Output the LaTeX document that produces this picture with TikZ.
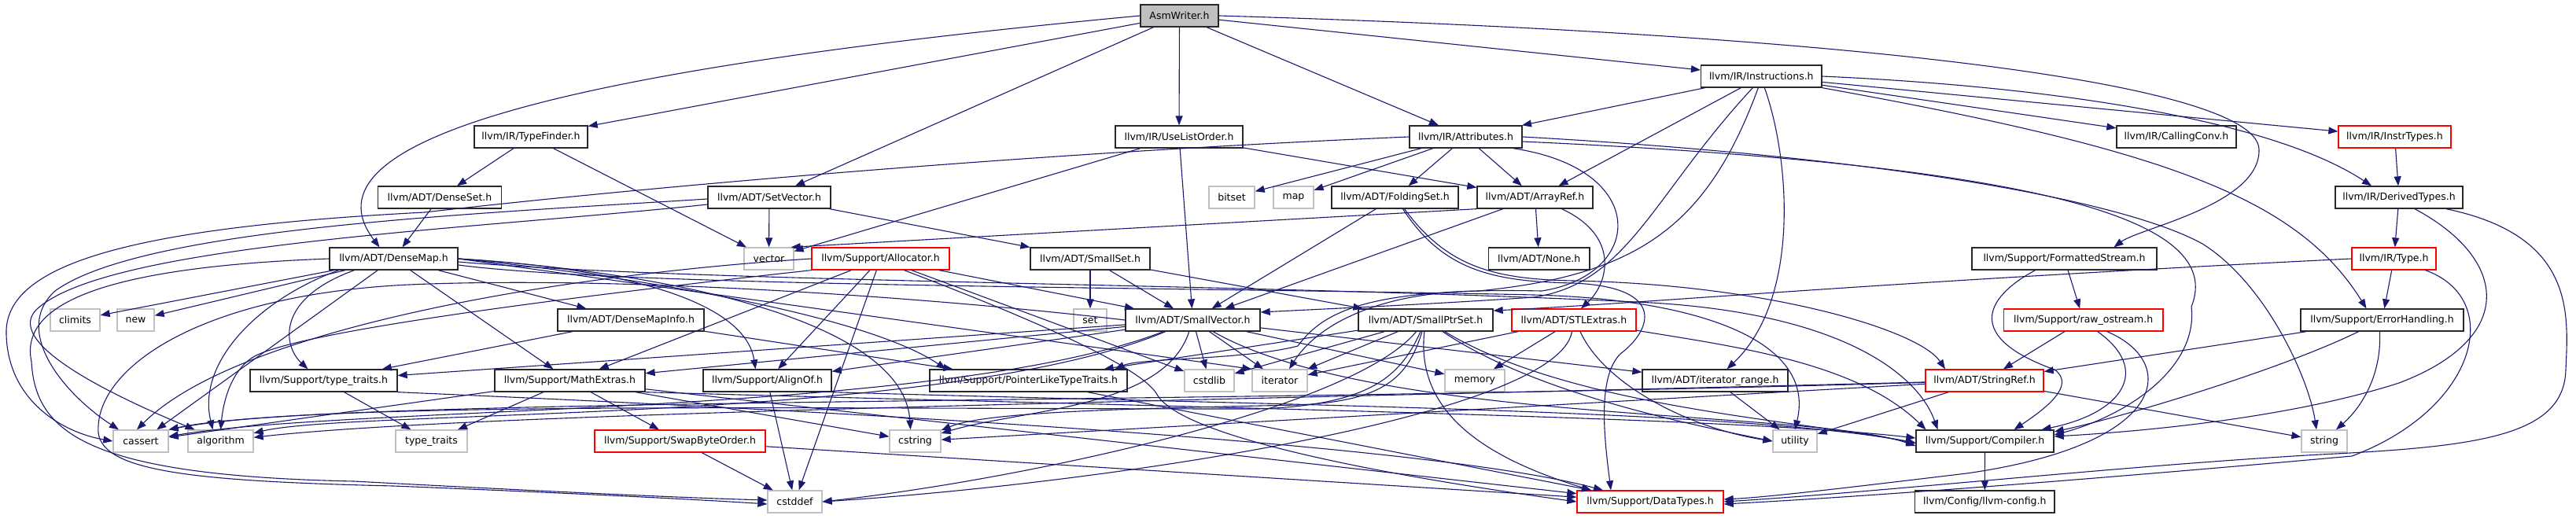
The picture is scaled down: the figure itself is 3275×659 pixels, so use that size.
\documentclass[tikz,border=0pt]{standalone}
\usepackage{fontspec}
\setmainfont{DejaVu Sans}
\usetikzlibrary{arrows.meta}
\definecolor{edgec}{RGB}{25,25,112}
\definecolor{grayb}{RGB}{191,191,191}
\definecolor{boxb}{RGB}{40,40,40}
\begin{document}
\begin{tikzpicture}[x=1pt,y=-1pt,
  nb/.style={draw=boxb, line width=1.3pt, minimum height=28pt, inner sep=0pt, font=\fontsize{12.5}{14}\selectfont},
  rb/.style={nb, draw=red},
  gb/.style={nb, draw=grayb},
  edg/.style={draw=edgec, line width=1.1pt, -{Triangle[length=12pt,width=9pt]}}]
\useasboundingbox (0,0) rectangle (3275,659);
% row 0-1
\node[nb,fill=grayb,minimum width=99] (aw) at (1499.5,20) {AsmWriter.h};
\node[nb,minimum width=153.5] (ins) at (2239.3,97) {llvm/IR/Instructions.h};
\node[nb,minimum width=144] (tf) at (675,174) {llvm/IR/TypeFinder.h};
\node[nb,minimum width=162] (ulo) at (1499,174) {llvm/IR/UseListOrder.h};
\node[nb,minimum width=143] (att) at (1863.5,174) {llvm/IR/Attributes.h};
\node[nb,minimum width=152] (cc) at (2767,174) {llvm/IR/CallingConv.h};
\node[rb,minimum width=143] (it) at (3044.5,174) {llvm/IR/InstrTypes.h};
% row 2
\node[nb,minimum width=156.5] (ds) at (559,251) {llvm/ADT/DenseSet.h};
\node[nb,minimum width=156] (sv) at (978,251) {llvm/ADT/SetVector.h};
\node[gb,minimum width=58] (bitset) at (1566,251) {bitset};
\node[gb,minimum width=51] (map) at (1644.5,251) {map};
\node[nb,minimum width=161] (fs) at (1773.5,251) {llvm/ADT/FoldingSet.h};
\node[nb,minimum width=147] (ar) at (1951.5,251) {llvm/ADT/ArrayRef.h};
\node[nb,minimum width=162] (dt) at (3050,251) {llvm/IR/DerivedTypes.h};
% row 3
\node[nb,minimum width=163] (dm) at (500.5,329) {llvm/ADT/DenseMap.h};
\node[gb,minimum width=63] (vector) at (977.5,329) {vector};
\node[rb,minimum width=175] (alloc) at (1119.5,329) {llvm/Support/Allocator.h};
\node[nb,minimum width=152] (sset) at (1386,329) {llvm/ADT/SmallSet.h};
\node[nb,minimum width=128.5] (none) at (1956.7,329) {llvm/ADT/None.h};
\node[nb,minimum width=235] (fstream) at (2624.5,329) {llvm/Support/FormattedStream.h};
\node[rb,minimum width=107] (type) at (3043.5,329) {llvm/IR/Type.h};
% row 4
\node[gb,minimum width=63] (climits) at (95.5,407) {climits};
\node[gb,minimum width=47] (new) at (172.5,407) {new};
\node[nb,minimum width=186] (dmi) at (802,407) {llvm/ADT/DenseMapInfo.h};
\node[gb,minimum width=42] (set) at (1386,407) {set};
\node[nb,minimum width=171] (svec) at (1516.5,407) {llvm/ADT/SmallVector.h};
\node[nb,minimum width=171] (sps) at (1812.5,407) {llvm/ADT/SmallPtrSet.h};
\node[rb,minimum width=158] (stl) at (2001,407) {llvm/ADT/STLExtras.h};
\node[rb,minimum width=202.5] (raw) at (2648.7,407) {llvm/Support/raw\_ostream.h};
\node[nb,minimum width=207] (eh) at (3028.5,407) {llvm/Support/ErrorHandling.h};
% row 5
\node[nb,minimum width=187] (tth) at (411.5,484) {llvm/Support/type\_traits.h};
\node[nb,minimum width=191] (mex) at (724.5,484) {llvm/Support/MathExtras.h};
\node[nb,minimum width=163] (aof) at (975.5,484) {llvm/Support/AlignOf.h};
\node[nb,minimum width=251] (pltt) at (1307.5,484) {llvm/Support/PointerLikeTypeTraits.h};
\node[gb,minimum width=63] (cstdlib) at (1537.5,484) {cstdlib};
\node[gb,minimum width=70] (iterator) at (1627,484) {iterator};
\node[gb,minimum width=76] (memory) at (1875,484) {memory};
\node[nb,minimum width=185] (itr) at (2180.5,484) {llvm/ADT/iterator\_range.h};
\node[rb,minimum width=150] (sref) at (2523,484) {llvm/ADT/StringRef.h};
% row 6
\node[gb,minimum width=70] (cassert) at (179,561) {cassert};
\node[gb,minimum width=83] (algorithm) at (280.5,561) {algorithm};
\node[gb,minimum width=91] (tt) at (548.5,561) {type\_traits};
\node[rb,minimum width=217] (sbo) at (864.5,561) {llvm/Support/SwapByteOrder.h};
\node[gb,minimum width=65] (cstring) at (1163.5,561) {cstring};
\node[gb,minimum width=56] (utility) at (2282,561) {utility};
\node[nb,minimum width=175] (comp) at (2523.5,561) {llvm/Support/Compiler.h};
\node[gb,minimum width=58] (string) at (2955,561) {string};
% row 7
\node[gb,minimum width=69] (cstddef) at (1010.5,638) {cstddef};
\node[rb,minimum width=186] (dtypes) at (2098,638) {llvm/Support/DataTypes.h};
\node[nb,minimum width=177.4] (lcfg) at (2523.3,638) {llvm/Config/llvm-config.h};

% ---- AsmWriter.h
\draw[edg] (aw.west) .. controls (700,90) and (380,180) .. ([xshift=-18pt]dm.north);
\draw[edg] (aw) -- (tf);
\draw[edg] (aw) -- (sv);
\draw[edg] (aw) -- (ulo);
\draw[edg] (aw) -- (att);
\draw[edg] (aw) -- (ins);
\draw[edg] (aw.east) .. controls (2400,45) and (2870,110) .. (2872,190) .. controls (2874,260) and (2720,290) .. ([xshift=63pt]fstream.north);
% ---- TypeFinder, DenseSet, UseListOrder
\draw[edg] (tf) -- (ds);
\draw[edg] (tf) -- (vector);
\draw[edg] (ds) -- (dm);
\draw[edg] (ulo) -- (ar);
\draw[edg] (ulo) -- (svec);
\draw[edg] (ulo) -- (vector);
% ---- SetVector
\draw[edg] (sv) -- (sset);
\draw[edg] (sv) -- (vector);
\draw[edg] ([yshift=-2pt]sv.west) .. controls (600,272) and (180,290) .. (70,370) .. controls (15,420) and (80,500) .. ([xshift=-28pt]cassert.north);
\draw[edg] ([yshift=-9pt]sv.west) .. controls (600,292) and (130,310) .. (45,395) .. controls (5,440) and (160,510) .. ([xshift=-33pt]algorithm.north);
% ---- Attributes
\draw[edg] (att) -- (ar);
\draw[edg] (att) -- (fs);
\draw[edg] (att) -- (bitset);
\draw[edg] (att) -- (map);
\draw[edg] (att.west) .. controls (1300,195) and (800,240) .. (540,270) .. controls (150,290) and (5,340) .. (8,425) .. controls (10,510) and (80,550) .. (cassert.west);
\draw[edg] (att.east) .. controls (2400,200) and (2700,255) .. (2800,310) .. controls (2880,360) and (2935,480) .. ([xshift=-10pt]string.north);
\draw[edg] ([yshift=-6pt]att.east) .. controls (2600,210) and (2830,280) .. (2786,390) .. controls (2795,470) and (2700,530) .. ([yshift=8pt]comp.east);
\draw[edg] ([xshift=60pt]att.south) .. controls (2100,215) and (2090,350) .. (1960,370) .. controls (1730,365) and (1680,400) .. (1650,440) .. controls (1580,458) and (1450,455) .. ([xshift=110pt]pltt.north);
% ---- Instructions
\draw[edg] (ins) -- (att);
\draw[edg] ([xshift=-26pt]ins.south) -- ([xshift=30pt]ar.north);
\draw[edg] ([xshift=-11pt]ins.south) .. controls (2100,250) and (2070,360) .. (1950,378) .. controls (1800,388) and (1700,392) .. ([yshift=10pt]svec.east);
\draw[edg] ([xshift=-4pt]ins.south) .. controls (2170,290) and (2080,350) .. (1880,370) .. controls (1740,372) and (1670,420) .. ([xshift=12pt]iterator.north);
\draw[edg] ([xshift=4pt]ins.south) .. controls (2275,200) and (2290,380) .. ([xshift=15pt]itr.north);
\draw[edg] (ins) -- (cc);
\draw[edg] (ins) -- (it);
\draw[edg] (ins.east) .. controls (2650,112) and (2900,160) .. ([xshift=-35pt]dt.north);
\draw[edg] (ins.south east) .. controls (2750,190) and (2920,250) .. ([xshift=-20pt]eh.north);
% ---- InstrTypes, DerivedTypes, Type
\draw[edg] (it) -- (dt);
\draw[edg] (dt) -- (type);
\draw[edg] ([xshift=20pt]dt.south) .. controls (3190,330) and (3200,430) .. (3050,487) .. controls (2900,535) and (2700,550) .. ([yshift=6pt]comp.east);
\draw[edg] ([xshift=60pt]dt.south) .. controls (3275,300) and (3265,400) .. (3262,470) .. controls (3260,555) and (3150,568) .. (2950,578) .. controls (2700,592) and (2400,625) .. (dtypes.east);
\draw[edg] (type) -- (eh);
\draw[edg] ([xshift=40pt]type.south) .. controls (3185,380) and (3150,520) .. (2990,580) .. controls (2700,606) and (2400,630) .. ([yshift=-3pt]dtypes.east);
\draw[edg] (type.west) .. controls (2400,358) and (2100,385) .. ([yshift=12pt]sps.east);
% ---- ErrorHandling
\draw[edg] (eh) -- (sref);
\draw[edg] ([xshift=-30pt]eh.south) .. controls (2900,470) and (2700,530) .. ([yshift=12pt]comp.east);
\draw[edg] ([xshift=-3pt]eh.south) .. controls (3028,480) and (3000,520) .. ([xshift=15pt]string.north);
% ---- FormattedStream, raw_ostream
\draw[edg] (fstream) -- (raw);
\draw[edg] ([xshift=-37pt]fstream.south) .. controls (2520,380) and (2500,430) .. (2612,470) .. controls (2640,490) and (2600,520) .. ([xshift=37pt]comp.north);
\draw[edg] (raw) -- (sref);
\draw[edg] ([xshift=18pt]raw.south) .. controls (2735,470) and (2700,525) .. ([xshift=72pt]comp.north);
\draw[edg] ([xshift=30pt]raw.south) .. controls (2770,460) and (2760,565) .. (2500,602) .. controls (2350,620) and (2250,632) .. ([yshift=3pt]dtypes.east);
% ---- StringRef, Compiler
\draw[edg] (sref) -- (utility);
\draw[edg] (sref) -- (string);
\draw[edg] (sref) -- (cstring);
\draw[edg] (sref) .. controls (1500,510) and (600,525) .. (algorithm);
\draw[edg] (sref) .. controls (1500,515) and (400,505) .. (cassert.north east);
\draw[edg] (comp) -- (lcfg);
% ---- DenseMap
\draw[edg] (dm) -- (climits);
\draw[edg] (dm) -- (new);
\draw[edg] (dm) -- (cassert);
\draw[edg] ([xshift=-70pt]dm.south) .. controls (330,380) and (250,460) .. ([xshift=-10pt]algorithm.north);
\draw[edg] ([xshift=-50pt]dm.south) .. controls (350,380) and (360,440) .. ([xshift=-20pt]tth.north);
\draw[edg] (dm) -- (dmi);
\draw[edg] (dm) -- (mex);
\draw[edg] (dm.east) .. controls (850,345) and (950,400) .. ([xshift=-15pt]aof.north);
\draw[edg] (dm.east) .. controls (800,350) and (1100,400) .. ([xshift=-105pt]pltt.north);
\draw[edg] (dm.west) .. controls (120,340) and (25,390) .. (40,460) .. controls (45,550) and (110,605) .. (450,612) .. controls (750,628) and (900,634) .. ([yshift=2pt]cstddef.west);
\draw[edg] (dm.east) .. controls (900,350) and (1150,420) .. ([xshift=-6pt]cstring.north);
\draw[edg] (dm.east) -- (iterator.north west);
\draw[edg] ([yshift=-8pt]dm.east) .. controls (800,365) and (1500,365) .. (1950,375) .. controls (2150,380) and (2310,430) .. (utility.north);
\draw[edg] ([yshift=-4pt]dm.east) .. controls (900,360) and (1600,360) .. (2100,385) .. controls (2350,400) and (2440,480) .. ([xshift=-60pt]comp.north);
% ---- DenseMapInfo, type_traits.h
\draw[edg] (dmi) -- (pltt);
\draw[edg] (dmi) -- (tth);
\draw[edg] (tth) -- (tt);
\draw[edg] (tth.south east) .. controls (1000,520) and (1800,560) .. ([xshift=-60pt]dtypes.north);
% ---- MathExtras
\draw[edg] (mex) -- (tt);
\draw[edg] (mex) -- (sbo);
\draw[edg] (mex) -- (cassert);
\draw[edg] (mex) -- (cstring);
\draw[edg] (mex.south east) .. controls (1500,518) and (2200,530) .. ([yshift=4pt]comp.west);
\draw[edg] (mex) -- (dtypes);
% ---- SwapByteOrder, AlignOf, PointerLikeTypeTraits
\draw[edg] (sbo) -- (cstddef);
\draw[edg] (sbo) -- (dtypes);
\draw[edg] (aof) -- (cstddef);
\draw[edg] (aof.south east) .. controls (1600,515) and (2200,520) .. ([yshift=-2pt]comp.west);
\draw[edg] (pltt) -- (dtypes);
% ---- Allocator
\draw[edg] (alloc) -- (svec);
\draw[edg] (alloc) -- (aof);
\draw[edg] (alloc) -- (mex);
\draw[edg] (alloc) -- (cstddef);
\draw[edg] (alloc) -- (cstdlib);
\draw[edg] (alloc.west) .. controls (700,350) and (300,420) .. ([xshift=-5pt]cassert.north);
\draw[edg] (alloc.south west) .. controls (700,380) and (400,420) .. (330,450) .. controls (300,462) and (285,500) .. (algorithm.north);
\draw[edg] ([xshift=30pt]alloc.south) .. controls (1350,420) and (1450,470) .. (1470,500) .. controls (1500,560) and (1800,610) .. (dtypes.west);
% ---- SmallSet
\draw[edg] (sset) -- (set);
\draw[edg] (sset) -- (svec);
\draw[edg] (sset) -- (sps);
% ---- SmallVector
\draw[edg] (svec) -- (cstdlib);
\draw[edg] (svec) -- (iterator);
\draw[edg] (svec) -- (memory);
\draw[edg] (svec) -- (itr);
\draw[edg] (svec) -- (aof);
\draw[edg] (svec) -- (mex);
\draw[edg] (svec) -- (tth);
\draw[edg] (svec) .. controls (1200,530) and (450,515) .. (cassert);
\draw[edg] (svec) .. controls (1200,540) and (450,520) .. (algorithm);
\draw[edg] (svec.west) .. controls (1200,380) and (800,350) .. (520,362) .. controls (250,375) and (120,470) .. (125,550) .. controls (130,600) and (250,612) .. (500,618) .. controls (750,628) and (900,636) .. ([yshift=-3pt]cstddef.west);
\draw[edg] (svec) .. controls (1480,520) and (1300,520) .. (cstring);
\draw[edg] (svec) .. controls (1750,540) and (2300,520) .. ([yshift=-6pt]comp.west);
% ---- SmallPtrSet
\draw[edg] (sps) -- (pltt);
\draw[edg] (sps) -- (iterator);
\draw[edg] (sps) -- (cstdlib);
\draw[edg] (sps) .. controls (1780,480) and (1740,515) .. (1600,520) .. controls (1000,520) and (400,510) .. (cassert.north east);
\draw[edg] (sps) .. controls (1720,520) and (1300,610) .. (cstddef.east);
\draw[edg] (sps) .. controls (1790,480) and (1760,510) .. (1650,515) .. controls (1400,520) and (1250,525) .. (cstring);
\draw[edg] (sps) .. controls (1800,520) and (1880,580) .. ([xshift=-75pt]dtypes.north);
\draw[edg] (sps) .. controls (1950,500) and (2150,540) .. (utility.west);
\draw[edg] (sps) .. controls (2000,520) and (2300,535) .. ([yshift=-3pt]comp.west);
% ---- STLExtras, iterator_range
\draw[edg] (stl) -- (memory);
\draw[edg] (stl) -- (iterator);
\draw[edg] (stl) .. controls (1980,530) and (1400,615) .. (cstddef.east);
\draw[edg] ([xshift=8pt]stl.south) .. controls (2040,490) and (2150,545) .. (utility.west);
\draw[edg] (stl) .. controls (2200,440) and (2360,460) .. ([xshift=-75pt]comp.north);
\draw[edg] (itr) -- (utility);
% ---- FoldingSet
\draw[edg] (fs) -- (svec);
\draw[edg] ([xshift=12pt]fs.south) .. controls (1840,340) and (1900,355) .. (2000,357) .. controls (2250,362) and (2440,420) .. ([xshift=-50pt]sref.north);
\draw[edg] ([xshift=10pt]fs.south) .. controls (1835,345) and (1900,358) .. (2000,360) .. controls (2120,365) and (2100,420) .. (2060,450) .. controls (2030,480) and (2040,560) .. ([xshift=-50pt]dtypes.north);
% ---- ArrayRef
\draw[edg] (ar) -- (none);
\draw[edg] (ar) -- (svec);
\draw[edg] (ar.south west) -- ([xshift=-4pt]vector.north east);
\draw[edg] ([xshift=34pt]ar.south) .. controls (2060,300) and (2045,360) .. ([xshift=9pt]stl.north);
\end{tikzpicture}
\end{document}
